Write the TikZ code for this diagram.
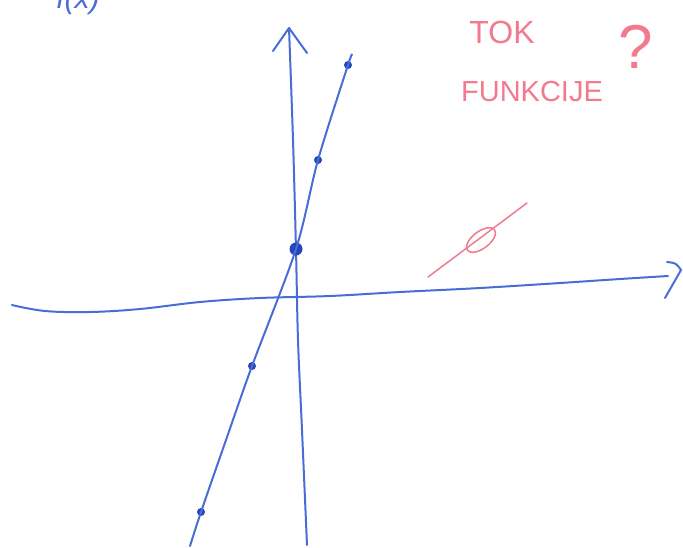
\documentclass[tikz,border=0pt]{standalone}
\usepackage{fontspec}
\setmainfont{Liberation Sans}
\usetikzlibrary{shapes.geometric}
\definecolor{penblue}{HTML}{4A6CD6}
\definecolor{dotblue}{HTML}{2446B8}
\definecolor{penpink}{HTML}{F27A8C}
\tikzset{
  bluepen/.style={draw=penblue, line width=2pt, line cap=round, line join=round},
  pinkpen/.style={draw=penpink, line width=1.5pt, line cap=round, line join=round},
  smalldot/.style={circle, fill=dotblue, inner sep=0pt, minimum size=8pt},
  bigdot/.style={circle, fill=dotblue, inner sep=0pt, minimum size=13pt},
  pinktext/.style={text=penpink, inner sep=0pt}
}
\begin{document}
\begin{tikzpicture}[x=1pt,y=-1pt]
\useasboundingbox (0,0) rectangle (683,547);
% cropped label at the top left
\begin{scope}
  \clip (0,0) rectangle (200,547);
  \node[text=penblue, inner sep=0pt, font=\fontsize{30}{30}\selectfont\itshape] (lbl) at (78,1) {f(x)};
\end{scope}
% horizontal axis
\coordinate (xs) at (12,305);
\coordinate (xe) at (668,276);
\draw[bluepen] plot[smooth, tension=0.6] coordinates {(xs) (45,311) (90,312) (140,309) (200,302) (260,298) (330,296) (400,292) (480,288) (560,283) (620,279) (xe)};
\coordinate (xa1) at (667,262);
\coordinate (xa2) at (681,270);
\coordinate (xa3) at (665,298);
\draw[bluepen] (xa1) .. controls (676,263) .. (xa2) -- (xa3);
% vertical axis
\coordinate (ys) at (307,545);
\coordinate (ye) at (289,28);
\draw[bluepen] plot[smooth, tension=0.6] coordinates {(ys) (302,430) (298,340) (296,250) (293,140) (ye)};
\coordinate (ya1) at (273,51);
\coordinate (ya2) at (307,53);
\draw[bluepen] (ya1) -- (ye) -- (ya2);
% steep line with points
\coordinate (ls) at (190,546);
\coordinate (le) at (352,55);
\node[smalldot] (p5) at (201,512) {};
\node[smalldot] (p4) at (252,366) {};
\node[bigdot] (p3) at (296,249) {};
\node[smalldot] (p2) at (318,160) {};
\node[smalldot] (p1) at (348,65) {};
\draw[bluepen] plot[smooth, tension=0.5] coordinates {(ls) (p5.center) (226,440) (p4.center) (p3.center) (p2.center) (p1.center) (le)};
% pink remarks
\node[pinktext, font=\fontsize{32}{32}\selectfont] (tok) at (502,32) {TOK};
\node[pinktext, font=\fontsize{29}{29}\selectfont] (fun) at (532,92) {FUNKCIJE};
\node[pinktext, font=\fontsize{62}{62}\selectfont] (q) at (636,47) {?};
\coordinate (ps) at (428,277);
\coordinate (pe) at (527,203);
\draw[pinkpen] (ps) -- (pe);
\node[ellipse, pinkpen, rotate=37, minimum width=34pt, minimum height=17pt, inner sep=0pt] (ov) at (481,240) {};
\end{tikzpicture}
\end{document}
